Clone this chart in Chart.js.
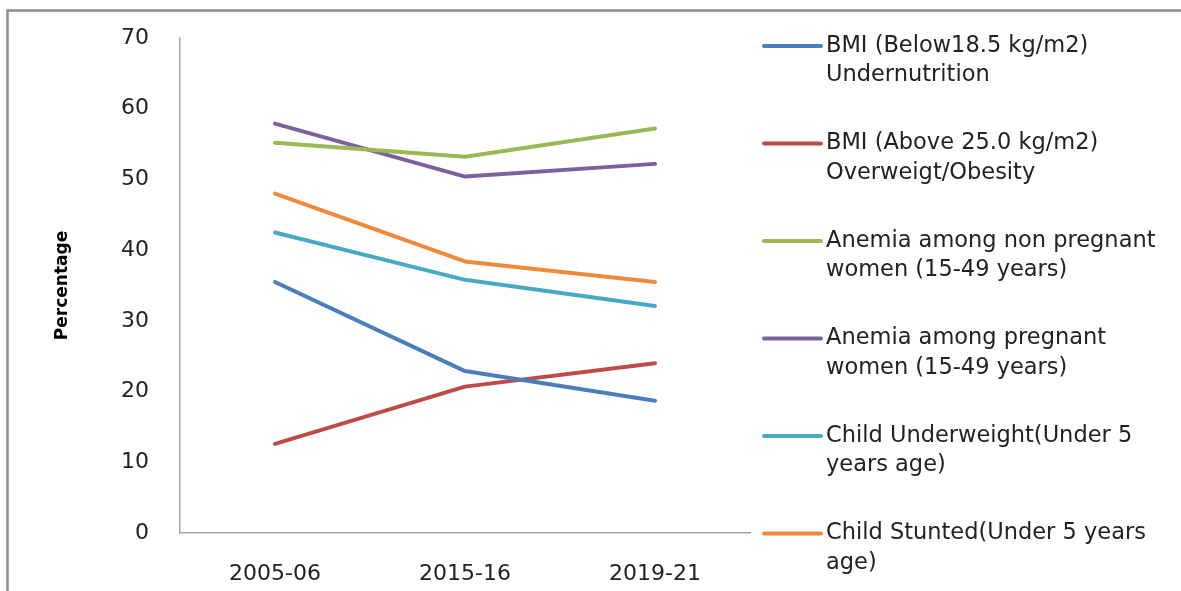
<!DOCTYPE html>
<html>
<head>
<meta charset="utf-8">
<script src="https://cdn.jsdelivr.net/npm/chart.js@4.4.0/dist/chart.umd.min.js"></script>
<style>
  html, body { margin: 0; padding: 0; background: #fff; overflow: hidden; }
  #c { display: block; }
</style>
</head>
<body>
<canvas id="c" width="1181" height="591"></canvas>
<script>
// ---- Data ----
const categories = ['2005-06', '2015-16', '2019-21'];
const yTicks = [0, 10, 20, 30, 40, 50, 60, 70];

const bmiBelow = [35.5, 22.9, 18.7];
const bmiAbove = [12.6, 20.7, 24.0];
const anemiaNonPregnant = [55.2, 53.2, 57.2];
const anemiaPregnant = [57.9, 50.4, 52.2];
const childUnderweight = [42.5, 35.8, 32.1];
const childStunted = [48.0, 38.4, 35.5];

const seriesLabels = [
  ['BMI (Below18.5 kg/m2)', 'Undernutrition'],
  ['BMI (Above 25.0 kg/m2)', 'Overweigt/Obesity'],
  ['Anemia among non pregnant', 'women (15-49 years)'],
  ['Anemia among pregnant', 'women (15-49 years)'],
  ['Child Underweight(Under 5', 'years age)'],
  ['Child Stunted(Under 5 years', 'age)']
];
const seriesValues = [bmiBelow, bmiAbove, anemiaNonPregnant, anemiaPregnant, childUnderweight, childStunted];
const seriesColors = ['#4A7EBB', '#BE4B48', '#98B954', '#7D60A0', '#46AAC5', '#F08A3A'];

const FONT = "'DejaVu Sans', 'Open Sans', sans-serif";

const framePlugin = {
  id: 'frame',
  beforeDraw(chart) {
    const ctx = chart.ctx;
    ctx.save();
    ctx.fillStyle = '#ffffff';
    ctx.fillRect(0, 0, chart.width, chart.height);
    ctx.strokeStyle = '#8c8c8c';
    ctx.lineWidth = 2.5;
    ctx.strokeRect(7.5, 10.5, 1400, 800);
    ctx.restore();
  }
};

const sideLegend = {
  id: 'sideLegend',
  afterDraw(chart) {
    const ctx = chart.ctx;
    ctx.save();
    ctx.font = '22.5px ' + FONT;
    ctx.textBaseline = 'middle';
    ctx.textAlign = 'left';
    chart.data.datasets.forEach((ds, i) => {
      const y0 = 46 + i * 97.5;
      ctx.strokeStyle = ds.borderColor;
      ctx.lineWidth = 4;
      ctx.lineCap = 'round';
      ctx.beginPath();
      ctx.moveTo(764, y0);
      ctx.lineTo(821, y0);
      ctx.stroke();
      ctx.fillStyle = '#222222';
      seriesLabels[i].forEach((line, k) => {
        ctx.fillText(line, 826, y0 + k * 29.5);
      });
    });
    ctx.restore();
  }
};

new Chart(document.getElementById('c'), {
  type: 'line',
  data: {
    labels: categories,
    datasets: seriesValues.map((vals, i) => ({
      label: seriesLabels[i].join(' '),
      data: vals,
      borderColor: seriesColors[i],
      backgroundColor: seriesColors[i],
      borderWidth: 4,
      borderCapStyle: 'round',
      borderJoinStyle: 'round',
      pointRadius: 0,
      tension: 0,
      fill: false
    }))
  },
  options: {
    responsive: false,
    animation: false,
    devicePixelRatio: 1,
    layout: { padding: { top: 38, right: 431, left: 0, bottom: 0 } },
    plugins: {
      legend: { display: false },
      tooltip: { enabled: false }
    },
    scales: {
      x: {
        offset: true,
        grid: { display: false },
        border: { display: true, color: '#a6a6a6', width: 1.5 },
        ticks: { color: '#222222', font: { family: FONT, size: 22 }, padding: 20, maxRotation: 0 },
        afterFit: s => { s.height = 58; }
      },
      y: {
        min: 0,
        max: 70,
        afterBuildTicks: s => { s.ticks = yTicks.map(v => ({ value: v })); },
        grid: { display: false },
        border: { display: true, color: '#a6a6a6', width: 1.5 },
        ticks: { color: '#222222', font: { family: FONT, size: 22 }, padding: 23 },
        title: {
          display: true,
          text: 'Percentage',
          color: '#000000',
          font: { family: FONT, size: 17, weight: 'bold' },
          padding: { top: 52, bottom: 0 }
        },
        afterFit: s => { s.width = 180; }
      }
    }
  },
  plugins: [framePlugin, sideLegend]
});
</script>
</body>
</html>
